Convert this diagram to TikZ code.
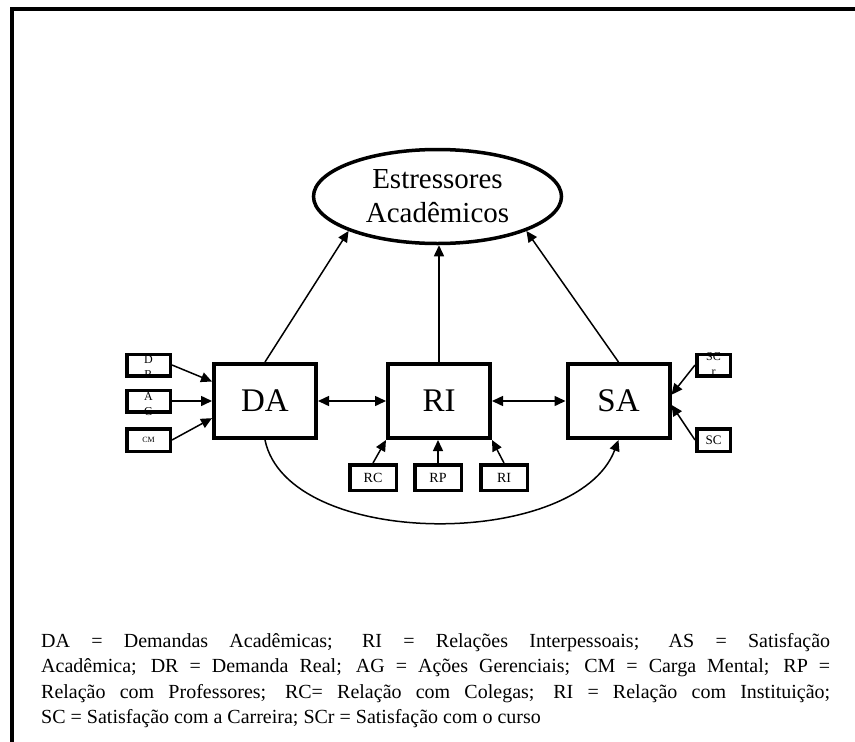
\documentclass[tikz,border=0pt]{standalone}
\usepackage{fontspec}
\setmainfont{Liberation Serif}
\usetikzlibrary{arrows.meta,shapes.geometric,calc}

\tikzset{
  bigbox/.style={draw, line width=4pt, minimum width=102pt, minimum height=74pt,
    inner sep=0pt, font=\fontsize{33}{33}\selectfont},
  smallbox/.style={draw, line width=3.5pt, minimum width=43.5pt, minimum height=21.5pt, inner sep=0pt},
  lowbox/.style={draw, line width=3.5pt, minimum width=46.5pt, minimum height=25.5pt, inner sep=0pt,
    font=\fontsize{14}{14}\selectfont},
  smalltxt/.style={inner sep=0pt, align=center, font=\fontsize{12}{15}\selectfont},
  arr/.style={line width=1.5pt, -{Triangle[length=11pt,width=10pt]}},
  darr/.style={line width=1.5pt, {Triangle[length=11pt,width=10pt]}-{Triangle[length=11pt,width=10pt]}},
}

\begin{document}
\begin{tikzpicture}[x=1pt, y=-1pt]
  \useasboundingbox (0,0) rectangle (855,742);

  % outer frame (left and top edges)
  \draw[line width=3.5pt, line join=miter] (11.75,742) -- (11.75,8.75) -- (855,8.75);

  % latent construct
  \node[draw, ellipse, line width=3.5pt, minimum width=248pt, minimum height=94pt, inner sep=0pt,
        align=center, font=\fontsize{29}{34}\selectfont] (es) at (437.5,196.5)
        {Estressores\\Acadêmicos};

  % factors
  \node[bigbox] (da) at (265,401) {DA};
  \node[bigbox] (ri) at (439,401) {RI};
  \node[bigbox] (sa) at (618.5,401) {SA};

  % indicators of DA
  \node[smalltxt] (drt) at (148.5,367) {D\\R};
  \node[smallbox] (dr) at (148.5,365) {};
  \node[smalltxt] (agt) at (148.5,404) {A\\G};
  \node[smallbox] (ag) at (148.5,401) {};
  \node[smallbox, minimum height=22.5pt, font=\fontsize{8}{8}\selectfont] (cm) at (148.5,440) {CM};

  % indicators of SA
  \node[smalltxt] (scrt) at (713.5,364) {SC\\r};
  \node[smallbox, minimum width=33.5pt] (scr) at (713.5,365) {};
  \node[smallbox, minimum width=33.5pt, minimum height=22.5pt, font=\fontsize{13}{13}\selectfont] (sc) at (713.5,440) {SC};

  % indicators of RI
  \node[lowbox] (rc) at (373,477.5) {RC};
  \node[lowbox] (rp) at (438,477.5) {RP};
  \node[lowbox] (rii) at (504,477.5) {RI};

  % paths to the latent construct
  \draw[arr] (da.north) -- (es.south west);
  \draw[arr] (ri.north) -- (ri.north |- es.south);
  \draw[arr] (sa.north) -- (es.south east);

  % correlations between factors
  \draw[darr] (da.east) -- (ri.west);
  \draw[darr] (ri.east) -- (sa.west);
  \draw[arr] (da.south) .. controls (288,550) and (577,550) .. (sa.south);

  % indicator arrows
  \draw[arr] (dr.east) -- ($(da.north west)!0.25!(da.south west)$);
  \draw[arr] (ag.east) -- (da.west);
  \draw[arr] (cm.east) -- ($(da.north west)!0.72!(da.south west)$);
  \draw[arr] (scr.west) -- ($(sa.north east)!0.42!(sa.south east)$);
  \draw[arr] (sc.west) -- ($(sa.north east)!0.55!(sa.south east)$);
  \draw[arr] (rc.north) -- (ri.south west);
  \draw[arr] (rp.north) -- (rp.north |- ri.south);
  \draw[arr] (rii.north) -- (ri.south east);

  % legend
  \node[anchor=north west, text width=789pt, align=justify, inner sep=0pt,
        font=\fontsize{20}{25.5}\selectfont] (legend) at (41,633)
  {DA = Demandas Acadêmicas; RI = Relações Interpessoais; AS = Satisfação\linebreak
   Acadêmica; DR = Demanda Real; AG = Ações Gerenciais; CM = Carga Mental; RP =\linebreak
   Relação com Professores; RC= Relação com Colegas; RI = Relação com Instituição;\linebreak
   SC = Satisfação com a Carreira; SCr = Satisfação com o curso};
\end{tikzpicture}
\end{document}
